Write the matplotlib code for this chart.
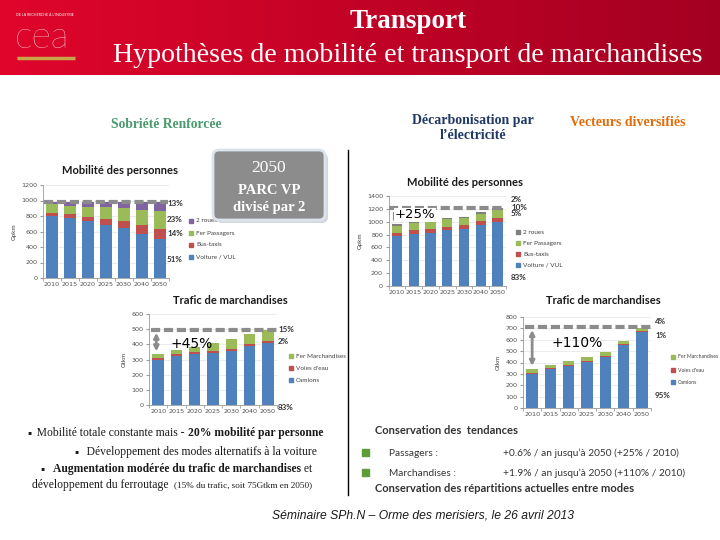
import numpy as np
import matplotlib
matplotlib.use('Agg')
import matplotlib.pyplot as plt
from matplotlib.patches import FancyBboxPatch, Rectangle

years = ['2010', '2015', '2020', '2025', '2030', '2040', '2050']

# Sobriété renforcée - mobilité des personnes (Gpkm)
sob_voiture = [800, 770, 730, 680, 650, 565, 500]
sob_bus = [45, 55, 60, 80, 85, 120, 135]
sob_fer = [105, 105, 130, 155, 165, 190, 225]
sob_2roues = [35, 45, 60, 70, 85, 110, 125]
sob_pers_pct = ['13%', '23%', '14%', '51%']

# Sobriété renforcée - trafic de marchandises (Gtkm)
sob_camions = [300, 325, 335, 345, 355, 390, 410]
sob_voies = [10, 10, 12, 12, 13, 15, 10]
sob_fer_m = [25, 30, 38, 55, 65, 65, 75]
sob_march_pct = ['15%', '2%', '83%']

# Décarbonisation par l'électricité - mobilité des personnes (Gpkm)
dec_voiture = [780, 810, 830, 865, 885, 950, 1000]
dec_bus = [45, 55, 55, 55, 60, 60, 60]
dec_fer = [110, 110, 120, 115, 110, 115, 125]
dec_2roues = [25, 20, 25, 25, 25, 25, 25]
dec_pers_pct = ['2%', '10%', '5%', '83%']

# Décarbonisation - trafic de marchandises (Gtkm)
dec_camions = [300, 340, 370, 405, 448, 550, 668]
dec_voies = [12, 10, 12, 10, 8, 10, 7]
dec_fer_m = [28, 25, 28, 35, 38, 27, 28]
dec_march_pct = ['4%', '1%', '95%']

pers_labels = ['2 roues', 'Fer Passagers', 'Bus-taxis', 'Voiture / VUL']
march_labels = ['Fer Marchandises', "Voies d'eau", 'Camions']

BLUE, RED, GREEN, PURPLE, GREY = '#4f81bd', '#c0504d', '#9bbb59', '#8064a2', '#7f7f7f'
SERIF = 'Liberation Serif'
SANS = 'Lato'

W, H = 720, 540
fig = plt.figure(figsize=(7.2, 5.4), dpi=100)

bg = fig.add_axes([0, 0, 1, 1])
bg.axis('off')

# red header with gradient
grad = np.linspace(0, 1, 256)[:, None]
c0 = np.array([0.88, 0.02, 0.17])
c1 = np.array([0.64, 0.0, 0.13])
img = (c0[None, :] * (1 - grad) + c1[None, :] * grad)[None, :, :]
bg.imshow(img, extent=[0, W, 75, 0], aspect='auto', zorder=0)
bg.set_xlim(0, W)
bg.set_ylim(H, 0)


def px_axes(x0, x1, ytop, ybot):
    return fig.add_axes([x0 / W, 1 - ybot / H, (x1 - x0) / W, (ybot - ytop) / H])


def stacked(ax, series, colors, ymax, step, ylabel):
    x = np.arange(len(years))
    bottom = np.zeros(len(years))
    for vals, col in zip(series, colors):
        ax.bar(x, vals, 0.62, bottom=bottom, color=col, zorder=2)
        bottom += np.array(vals)
    ax.set_xlim(-0.5, len(years) - 0.5)
    ax.set_ylim(0, ymax)
    ax.set_yticks(np.arange(0, ymax + 1, step))
    ax.set_xticks(x)
    ax.set_xticklabels(years)
    ax.set_xticks(np.arange(-0.5, len(years)), minor=True)
    ax.tick_params(axis='x', which='major', length=0, labelsize=4.6, colors='#505050', pad=3)
    ax.tick_params(axis='x', which='minor', length=2, color='#9a9a9a')
    ax.tick_params(axis='y', length=2, labelsize=4.6, colors='#505050', pad=2, color='#9a9a9a')
    for s in ['top', 'right']:
        ax.spines[s].set_visible(False)
    for s in ['left', 'bottom']:
        ax.spines[s].set_color('#9a9a9a')
        ax.spines[s].set_linewidth(0.6)
    ax.grid(axis='y', color='#e4e4e4', lw=0.5, zorder=0)
    ax.set_ylabel(ylabel, fontsize=4.5, color='#404040', labelpad=3, family=SANS)
    ax.patch.set_alpha(0)
    return bottom


# top left : Sobriété mobilité
ax1 = px_axes(43, 169, 185, 278)
tot1 = stacked(ax1, [sob_voiture, sob_bus, sob_fer, sob_2roues], [BLUE, RED, GREEN, PURPLE], 1200, 200, 'Gpkm')
ax1.hlines(tot1[-1], -0.45, 6.45, colors='#8c8c8c', lw=3, linestyles=(0, (2.2, 0.9)), zorder=3)

# top right : Décarbonisation mobilité
ax2 = px_axes(388.6, 506, 196, 286)
tot2 = stacked(ax2, [dec_voiture, dec_bus, dec_fer, dec_2roues], [BLUE, RED, GREEN, GREY], 1400, 200, 'Gpkm')
ax2.hlines(tot2[-1], -0.5, 6.45, colors='#8c8c8c', lw=3, linestyles=(0, (2.2, 0.9)), zorder=3)
ax2.annotate('', xy=(-0.35, tot2[-1]), xytext=(-0.35, tot2[0]),
             arrowprops=dict(arrowstyle='<->', color='#8c8c8c', lw=2,
                             connectionstyle='arc3,rad=0.4', mutation_scale=7), zorder=4)
ax2.text(1.05, (tot2[0] + tot2[-1]) / 2 + 20, '+25%', fontsize=9.5, family='DejaVu Sans',
         ha='center', va='center', zorder=5,
         bbox=dict(facecolor='white', edgecolor='none', pad=0.5))

# bottom left : Sobriété marchandises
ax3 = px_axes(149, 277, 314, 405)
tot3 = stacked(ax3, [sob_camions, sob_voies, sob_fer_m], [BLUE, RED, GREEN], 600, 100, 'Gtkm')
ax3.hlines(tot3[-1], -0.4, 6.5, colors='#8c8c8c', lw=3, linestyles=(0, (2.2, 0.9)), zorder=3)
ax3.annotate('', xy=(-0.1, tot3[-1]), xytext=(-0.1, tot3[0]),
             arrowprops=dict(arrowstyle='<->', color='#8c8c8c', lw=2, mutation_scale=7), zorder=4)
ax3.text(1.85, 405, '+45%', fontsize=10, family='DejaVu Sans', ha='center', va='center', zorder=5)

# bottom right : Décarbonisation marchandises
ax4 = px_axes(523, 651, 317, 408)
tot4 = stacked(ax4, [dec_camions, dec_voies, dec_fer_m], [BLUE, RED, GREEN], 800, 100, 'Gtkm')
ax4.hlines(tot4[-1] + 8, -0.4, 6.5, colors='#8c8c8c', lw=3, linestyles=(0, (2.2, 0.9)), zorder=3)
ax4.annotate('', xy=(0, tot4[-1] + 8), xytext=(0, tot4[0] + 5),
             arrowprops=dict(arrowstyle='<->', color='#8c8c8c', lw=2, mutation_scale=7), zorder=4)
ax4.text(2.45, 575, '+110%', fontsize=10, family='DejaVu Sans', ha='center', va='center', zorder=5)

ov = fig.add_axes([0, 0, 1, 1])
ov.set_xlim(0, W)
ov.set_ylim(H, 0)
ov.axis('off')
ov.patch.set_alpha(0)
renderer = fig.canvas.get_renderer()


def runs(x, y, parts, **kw):
    # draws pieces of one line side by side
    for txt, extra in parts:
        opts = dict(kw)
        opts.update(extra)
        t = ov.text(x, y, txt, **opts)
        x += t.get_window_extent(renderer).width


# header
ov.text(16, 15, "DE LA RECHERCHE À L'INDUSTRIE", fontsize=2.6, color='white', va='center', family=SANS)
ov.text(15, 38, 'cea', fontsize=27, color='white', va='center', family=SANS, weight='light')
ov.plot([17, 75], [58, 58], color='#c9a54a', lw=2.5, solid_capstyle='butt')
ov.text(408, 21, 'Transport', fontsize=19.5, weight='bold', color='white', ha='center', va='center', family=SERIF)
ov.text(408, 55, 'Hypothèses de mobilité et transport de marchandises', fontsize=20.1, color='white',
        ha='center', va='center', family=SERIF)

# scenario names
ov.text(166, 125, 'Sobriété Renforcée', fontsize=9.8, weight='bold', color='#4a9a6e', ha='center', va='center', family=SERIF)
ov.text(473, 128, 'Décarbonisation par\nl\u2019électricité', fontsize=10, weight='bold', color='#1f3864',
        ha='center', va='center', family=SERIF, linespacing=1.25)
ov.text(628, 122, 'Vecteurs diversifiés', fontsize=10, weight='bold', color='#e36c0a', ha='center', va='center', family=SERIF)

ov.plot([348, 348], [150, 495], color='black', lw=1)

# chart titles
title_kw = dict(fontsize=8, weight='bold', ha='center', va='center', family=SANS, color='#1a1a1a')
ov.text(120, 171, 'Mobilité des personnes', **title_kw)
ov.text(465, 182, 'Mobilité des personnes', **title_kw)
ov.text(230, 301, 'Trafic de marchandises', **title_kw)
ov.text(603, 301, 'Trafic de marchandises', **title_kw)


def legend(x, ys, labels, colors, fs=4.6):
    for y, lab, col in zip(ys, labels, colors):
        ov.add_patch(Rectangle((x - 2, y - 2), 4, 4, color=col))
        ov.text(x + 5, y, lab, fontsize=fs, va='center', family=SANS, color='#404040')


def pct(x, ys, labels):
    for y, lab in zip(ys, labels):
        ov.text(x, y, lab, fontsize=5.8, va='center', weight='bold', family=SANS, color='#333333')


legend(191, [221, 233, 245, 257], pers_labels, [PURPLE, GREEN, RED, BLUE])
pct(167, [203, 220, 233, 259], sob_pers_pct)
legend(518, [232, 243, 254, 265], pers_labels, [GREY, GREEN, RED, BLUE])
pct(511, [200, 208, 214, 277], dec_pers_pct)
legend(291, [356, 368, 380], march_labels, [GREEN, RED, BLUE])
pct(278, [330, 341, 408], sob_march_pct)
legend(673, [357, 370, 382], march_labels, [GREEN, RED, BLUE], fs=3.7)
pct(655, [322, 335, 396], dec_march_pct)

# box 2050
ov.add_patch(FancyBboxPatch((216, 153), 112, 70, boxstyle='round,pad=0,rounding_size=6',
                            facecolor='#bfc8d0', edgecolor='none', alpha=0.7, zorder=5))
ov.add_patch(FancyBboxPatch((213, 150), 112, 70, boxstyle='round,pad=0,rounding_size=6',
                            facecolor='#8c8c8c', edgecolor='#dde3ea', lw=2, zorder=6))
ov.text(269, 168, '2050', fontsize=12.5, color='white', ha='center', va='center', family=SERIF, zorder=7)
ov.text(269, 191, 'PARC VP', fontsize=10.5, weight='bold', color='white', ha='center', va='center', family=SERIF, zorder=7)
ov.text(269, 208, 'divisé par 2', fontsize=10.5, weight='bold', color='white', ha='center', va='center', family=SERIF, zorder=7)

# left text
tk = dict(fontsize=8.4, va='center', family=SERIF, color='#1a1a1a')
bold = {'weight': 'bold'}
runs(27, 433, [('▪', {}), ('  Mobilité totale constante mais - ', {}), ('20% mobilité par personne', bold)], **tk)
runs(74, 452, [('▪', {}), ('   Développement des modes alternatifs à la voiture', {})], **tk)
runs(40, 469, [('▪', {}), ('   ', {}), ('Augmentation modérée du trafic de marchandises', bold), (' et', {})], **tk)
runs(32, 485, [('développement du ferroutage  ', {}), ('(15% du trafic, soit 75Gtkm en 2050)', {'fontsize': 6.6})], **tk)

# right text
rk = dict(fontsize=8, va='center', family=SANS, color='#333333', weight='bold')
ov.text(375, 430, 'Conservation des  tendances', **rk)
ov.add_patch(Rectangle((362, 449), 7, 7, color='#5e9c3a'))
ov.add_patch(Rectangle((362, 469), 7, 7, color='#5e9c3a'))
sk = dict(fontsize=7.3, va='center', family=SANS, color='#333333')
ov.text(389, 453, 'Passagers :', **sk)
ov.text(503, 453, '+0.6% / an jusqu\u2019à 2050 (+25% / 2010)', **sk)
ov.text(389, 473, 'Marchandises :', **sk)
ov.text(503, 473, '+1.9% / an jusqu\u2019à 2050 (+110% / 2010)', **sk)
ov.text(375, 489, 'Conservation des répartitions actuelles entre modes', **rk)

ov.text(423, 516, 'Séminaire SPh.N \u2013 Orme des merisiers, le 26 avril 2013', fontsize=8.7, style='italic',
        ha='center', va='center', family='Liberation Sans', color='#1a1a1a')

fig.savefig('out.png', dpi=100)
